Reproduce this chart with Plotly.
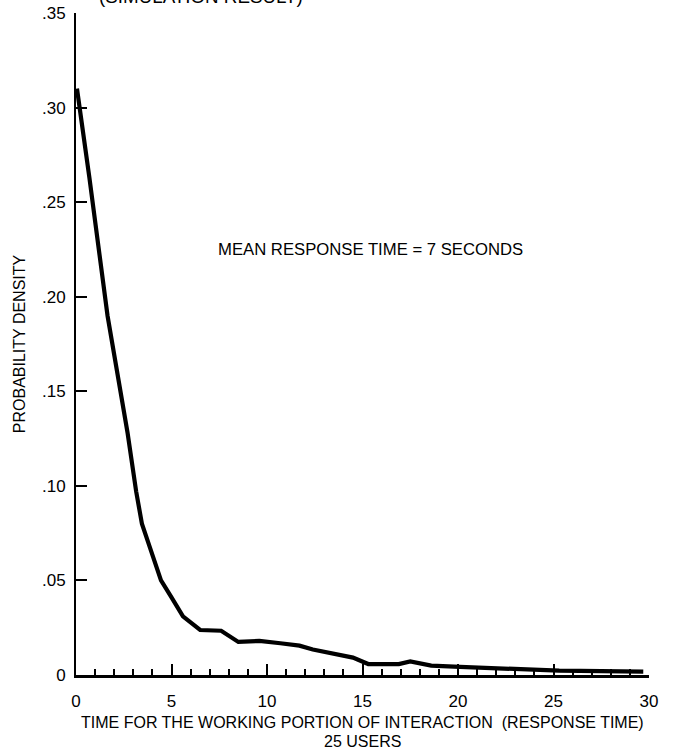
import plotly.graph_objects as go

# Response-time probability density (25 users)
time_s = [0.05, 0.7, 1.65, 2.2, 2.7, 3.15, 3.45, 3.85, 4.45, 5.0, 5.6, 6.5, 7.6, 8.5,
          9.6, 10.7, 11.7, 12.4, 13.5, 14.5, 15.3, 16.9, 17.5, 18.6, 20.1, 22.2,
          24.1, 25.3, 27.5, 29.7]
density = [0.310, 0.263, 0.190, 0.157, 0.128, 0.097, 0.080, 0.068, 0.050, 0.041, 0.031,
           0.0238, 0.0234, 0.0175, 0.0180, 0.0168, 0.0155, 0.0135, 0.0115, 0.0092, 0.0058,
           0.0058, 0.0072, 0.0050, 0.0043, 0.0035, 0.0030, 0.0023, 0.0021, 0.0018]

y_tickvals = [0, 0.05, 0.10, 0.15, 0.20, 0.25, 0.30, 0.35]
y_ticktext = ["0", ".05", ".10", ".15", ".20", ".25", ".30", ".35"]
x_tickvals = [0, 5, 10, 15, 20, 25, 30]
x_ticktext = ["0", "5", "10", "15", "20", "25", "30"]

x_title_lines = ["TIME FOR THE WORKING PORTION OF INTERACTION  (RESPONSE TIME)", "25 USERS"]

FONT = "Liberation Sans"
L, R, T, B = 76, 26, 13, 74
W, H = 675, 749
PH = H - T - B  # plot-area height in px


def below_axis(px):
    """Paper y for a point px pixels below the x axis line."""
    return -px / PH


fig = go.Figure()
fig.add_trace(go.Scatter(
    x=time_s, y=density, mode="lines",
    line=dict(color="black", width=4.2, shape="linear"),
    showlegend=False, hoverinfo="skip",
))

annotations = [
    dict(text="MEAN RESPONSE TIME = 7 SECONDS", x=15.4, y=0.225, xref="x", yref="y",
         showarrow=False, font=dict(size=16.7, family=FONT)),
    # heading sits mostly above the top edge of the page
    dict(text="(SIMULATION RESULT)", x=(201 - L) / (W - L - R), y=1.006,
         xref="paper", yref="paper", xanchor="center", yanchor="bottom",
         showarrow=False, font=dict(size=18.8, family=FONT)),
]
for offset, line in zip([47, 66], x_title_lines):
    annotations.append(dict(text=line, x=0.5, y=below_axis(offset), xref="paper", yref="paper",
                            xanchor="center", yanchor="middle", showarrow=False,
                            font=dict(size=16, family=FONT)))

fig.update_layout(
    width=W, height=H,
    margin=dict(l=L, r=R, t=T, b=B),
    paper_bgcolor="white", plot_bgcolor="white",
    font=dict(family=FONT, color="black", size=16),
    xaxis=dict(
        range=[0, 30], tickvals=x_tickvals, ticktext=x_ticktext, automargin=False,
        showgrid=False, zeroline=False, showline=True, linecolor="black", linewidth=3,
        ticks="inside", ticklen=11, tickwidth=1.5, tickcolor="black",
        minor=dict(dtick=1, ticks="inside", ticklen=6, tickwidth=1.5, tickcolor="black"),
        tickfont=dict(size=17, family=FONT), ticklabelstandoff=9,
    ),
    yaxis=dict(
        range=[0, 0.35], tickvals=y_tickvals, ticktext=y_ticktext, automargin=False,
        showgrid=False, zeroline=False, showline=True, linecolor="black", linewidth=2,
        ticks="inside", ticklen=11, tickwidth=1.5, tickcolor="black",
        tickfont=dict(size=17, family=FONT), ticklabelstandoff=5,
        title=dict(text="PROBABILITY DENSITY", font=dict(size=16, family=FONT), standoff=12),
    ),
    annotations=annotations,
)

fig.write_html("out.html")
